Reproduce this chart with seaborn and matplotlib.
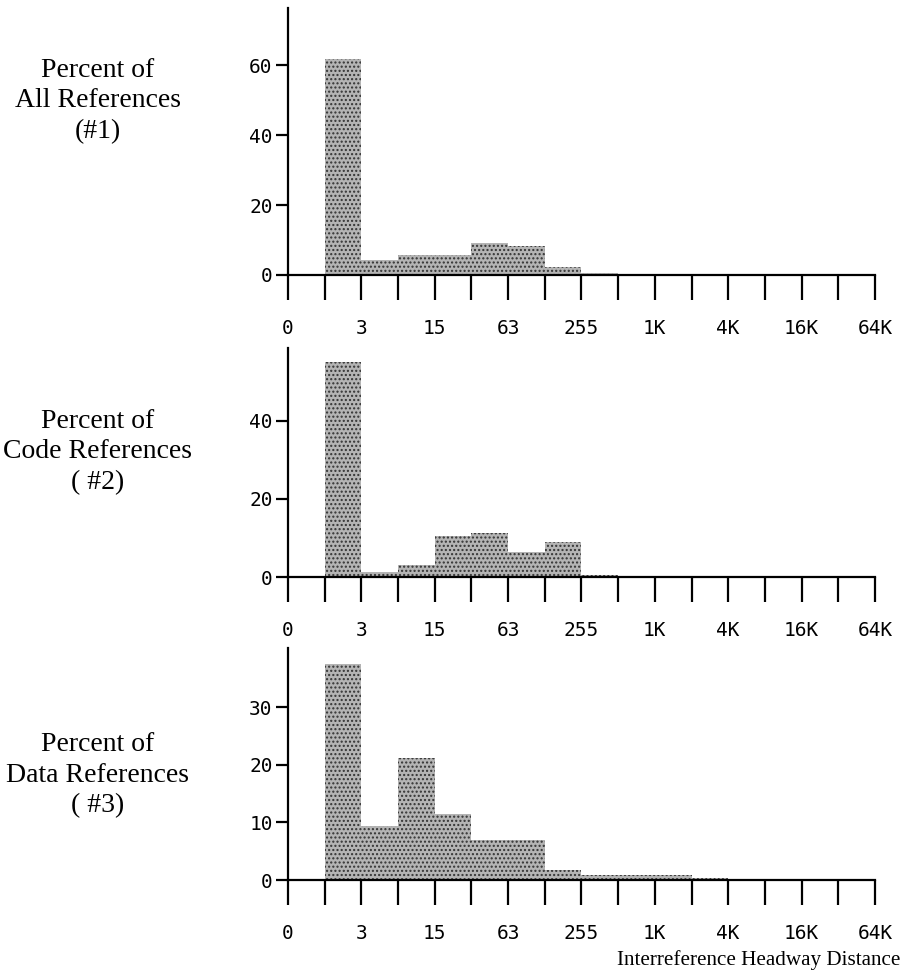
import numpy as np
import pandas as pd
import seaborn as sns
import matplotlib.pyplot as plt

# bins run between tick positions; tick i stands for distance 2**i - 1
bin_left = np.arange(16)
tick_labels = ['0', '', '3', '', '15', '', '63', '', '255', '', '1K', '', '4K', '', '16K', '', '64K']

all_refs = [0, 61.6, 4.3, 5.7, 5.7, 9.0, 8.4, 2.4, 0.7, 0, 0, 0, 0, 0, 0, 0]
code_refs = [0, 55.0, 1.2, 3.1, 10.6, 11.2, 6.3, 8.9, 0.6, 0, 0, 0, 0, 0, 0, 0]
data_refs = [0, 37.6, 9.4, 21.2, 11.5, 7.0, 7.0, 1.8, 0.8, 0.8, 0.8, 0.4, 0, 0, 0, 0]

panels = [
    ('Percent of\nAll References\n(#1)', all_refs, [0, 20, 40, 60], 76.3),
    ('Percent of\nCode References\n( #2)', code_refs, [0, 20, 40], 58.7),
    ('Percent of\nData References\n( #3)', data_refs, [0, 10, 20, 30], 40.3),
]

# axes boxes in figure fractions (left, bottom, width, height)
boxes = [
    (0.3158, 0.7194, 0.6436, 0.2724),
    (0.3158, 0.4112, 0.6436, 0.2337),
    (0.3158, 0.1020, 0.6436, 0.2367),
]
label_y = [0.897, 0.539, 0.209]

sns.set_style('ticks')
plt.rcParams['font.family'] = ['DejaVu Sans Mono']
plt.rcParams['hatch.linewidth'] = 1.0

fig = plt.figure(figsize=(9.12, 9.8), dpi=100)

for (title, vals, yticks, ymax), box, ly in zip(panels, boxes, label_y):
    ax = fig.add_axes(box)
    df = pd.DataFrame({'pos': bin_left + 0.5, 'pct': vals})
    sns.histplot(data=df, x='pos', weights='pct', bins=16, binrange=(0, 16), ax=ax,
                 element='step', fill=True, alpha=1, facecolor='#b4b4b4',
                 edgecolor='#333333', hatch='....', linewidth=0)
    ax.set_xlim(0, 16)
    ax.set_ylim(0, ymax)
    ax.set_xticks(np.arange(17))
    ax.set_xticklabels(tick_labels)
    ax.set_yticks(yticks)
    ax.set_xlabel('')
    ax.set_ylabel('')
    sns.despine(ax=ax)
    for s in ['left', 'bottom']:
        ax.spines[s].set_linewidth(1.6)
        ax.spines[s].set_color('black')
    ax.tick_params(axis='x', direction='out', length=18, width=1.6, pad=14,
                   labelsize=14, colors='black')
    ax.tick_params(axis='y', direction='out', length=9, width=1.6, pad=2,
                   labelsize=14, colors='black')
    fig.text(0.107, ly, title, ha='center', va='center', fontsize=20,
             family='Liberation Serif', linespacing=1.3, color='black')

fig.text(0.987, 0.02, 'Interreference Headway Distance', ha='right', va='center',
         fontsize=15.2, family='Liberation Serif', color='black')

fig.savefig('out.png', dpi=100)
